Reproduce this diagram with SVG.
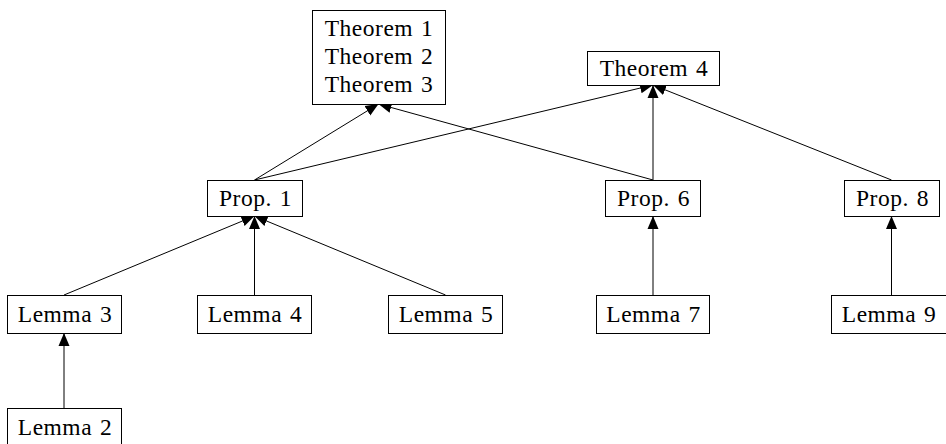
<svg xmlns="http://www.w3.org/2000/svg" width="946" height="444" viewBox="0 0 946 444">
<defs>
<marker id="ah" markerUnits="userSpaceOnUse" markerWidth="14" markerHeight="14" viewBox="0 0 14 14" refX="13" refY="7" orient="auto">
<path d="M0,1.5 L13,7 L0,12.5 Z" fill="#000"/>
</marker>
<style>
.box{fill:#fff;stroke:#000;stroke-width:1}
.lbl{font-family:"Liberation Serif","DejaVu Serif",serif;font-size:23.5px;letter-spacing:0.5px;word-spacing:1.5px;fill:#000;text-anchor:middle}
.edge{stroke:#000;stroke-width:1;fill:none;marker-end:url(#ah)}
</style>
</defs>
<rect width="946" height="444" fill="#fff"/>
<g id="connectors">
<line class="edge" x1="254.5" y1="180" x2="378.5" y2="104"/>
<line class="edge" x1="653" y1="180" x2="378.5" y2="104"/>
<line class="edge" x1="254.5" y1="180" x2="653" y2="85"/>
<line class="edge" x1="653" y1="180" x2="653" y2="85"/>
<line class="edge" x1="891.5" y1="180" x2="653" y2="85"/>
<line class="edge" x1="64" y1="295" x2="254.5" y2="216"/>
<line class="edge" x1="254.5" y1="295" x2="254.5" y2="216"/>
<line class="edge" x1="445.5" y1="295" x2="254.5" y2="216"/>
<line class="edge" x1="653" y1="295" x2="653" y2="216"/>
<line class="edge" x1="891.5" y1="295" x2="891.5" y2="216"/>
<line class="edge" x1="64" y1="408" x2="64" y2="333"/>
</g>
<g id="theorems123">
<rect class="box" x="312.5" y="10.5" width="133" height="94"/>
<text class="lbl" x="379" y="36">Theorem 1</text>
<text class="lbl" x="379" y="64">Theorem 2</text>
<text class="lbl" x="379" y="92">Theorem 3</text>
</g>
<g id="theorem4">
<rect class="box" x="587.5" y="51.5" width="132" height="34"/>
<text class="lbl" x="654" y="76">Theorem 4</text>
</g>
<g id="prop1">
<rect class="box" x="207.5" y="180.5" width="95" height="36"/>
<text class="lbl" x="255.5" y="206">Prop. 1</text>
</g>
<g id="prop6">
<rect class="box" x="605.5" y="180.5" width="95" height="36"/>
<text class="lbl" x="653.5" y="206">Prop. 6</text>
</g>
<g id="prop8">
<rect class="box" x="844.5" y="180.5" width="95" height="36"/>
<text class="lbl" x="892.5" y="206">Prop. 8</text>
</g>
<g id="lemma3">
<rect class="box" x="7.5" y="295.5" width="114" height="38"/>
<text class="lbl" x="65" y="322">Lemma 3</text>
</g>
<g id="lemma4">
<rect class="box" x="197.5" y="295.5" width="114" height="38"/>
<text class="lbl" x="255" y="322">Lemma 4</text>
</g>
<g id="lemma5">
<rect class="box" x="388.5" y="295.5" width="114" height="38"/>
<text class="lbl" x="446" y="322">Lemma 5</text>
</g>
<g id="lemma7">
<rect class="box" x="596.5" y="295.5" width="113" height="38"/>
<text class="lbl" x="653.5" y="322">Lemma 7</text>
</g>
<g id="lemma9">
<rect class="box" x="831.5" y="295.5" width="120" height="38"/>
<text class="lbl" x="889" y="322">Lemma 9</text>
</g>
<g id="lemma2">
<rect class="box" x="7.5" y="408.5" width="114" height="38"/>
<text class="lbl" x="65" y="435">Lemma 2</text>
</g>
</svg>
